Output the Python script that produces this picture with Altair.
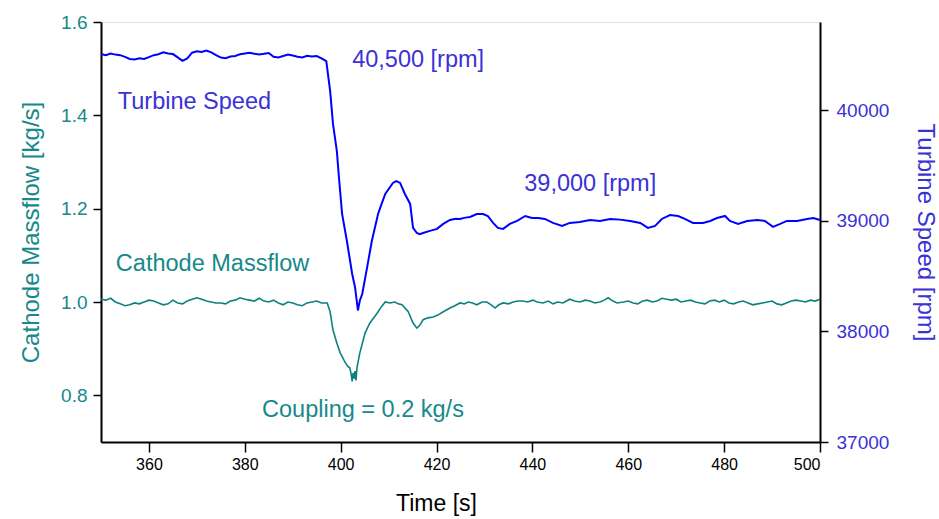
import altair as alt
import pandas as pd

# Turbine speed trace (time [s], speed [rpm])
ts_time = [350, 351, 352, 353, 354, 355, 356, 357, 358, 359, 360, 361, 362, 363, 364, 365, 366, 367, 368, 369,
           370, 371, 372, 373, 374, 375, 376, 377, 378, 379, 380, 381, 382, 383, 384, 385, 386, 387, 388, 389,
           390, 391, 392, 393, 394, 395, 396, 397, 397.8, 398.4, 399.2, 399.7, 400.3, 401.3, 402.4, 403.0,
           403.2, 403.6, 404.0, 404.5, 405.5, 406.5, 407.8, 408.5, 409.3, 410.2, 410.9, 411.6, 412.4, 413.4,
           414.5, 415.1, 415.9, 416.5, 417.2, 418.6, 420.1, 421.4, 422.8, 424.0, 424.9, 426.0, 427.0, 428.4,
           429.7, 430.7, 431.8, 432.8, 433.9, 435.3, 436.8, 438.5, 439.9, 441.2, 442.6, 444.3, 446.2, 447.8,
           449.9, 452.0, 454.1, 456.2, 458.3, 460.4, 462.5, 464.1, 465.6, 467.0, 468.7, 470.4, 471.8, 473.5,
           475.6, 477.1, 478.5, 480.2, 481.2, 482.9, 484.8, 486.9, 488.5, 490.2, 491.7, 493.1, 495.2, 497.3,
           498.6, 500.0]
ts_rpm = [40510, 40500, 40515, 40505, 40500, 40485, 40465, 40460, 40472, 40465, 40482, 40500, 40508, 40525,
          40515, 40510, 40480, 40448, 40470, 40522, 40535, 40528, 40542, 40525, 40500, 40478, 40472, 40488,
          40492, 40508, 40515, 40522, 40512, 40505, 40512, 40520, 40486, 40480, 40492, 40505, 40496, 40486,
          40480, 40494, 40488, 40492, 40470, 40445, 40177, 39878, 39634, 39362, 39063, 38819, 38520, 38400,
          38330, 38190, 38280, 38339, 38575, 38819, 39063, 39150, 39244, 39300, 39344, 39360, 39344, 39244,
          39154, 38937, 38891, 38880, 38891, 38910, 38928, 38973, 39009, 39020, 39018, 39030, 39036, 39063,
          39063, 39045, 38982, 38937, 38928, 38973, 39000, 39045, 39027, 39027, 39018, 38982, 38955, 38982,
          38991, 39009, 39000, 39018, 39012, 39000, 38982, 38937, 38955, 39018, 39054, 39045, 39018, 38982,
          38982, 39000, 39027, 39045, 39000, 38973, 39000, 39009, 39000, 38946, 38973, 39000, 39000, 39018,
          39027, 39009]

# Cathode massflow trace (time [s], massflow [kg/s])
mf_time = [350, 351, 352, 353, 354, 355, 356, 357, 358, 359, 360, 361, 362, 363, 364, 365, 366, 367, 368, 369,
           370, 371, 372, 373, 374, 375, 376, 377, 378, 379, 380, 381, 382, 383, 384, 385, 386, 387, 388, 389,
           390, 391, 392, 393, 394, 395, 396, 397.2, 397.8, 398.4, 399.2, 399.9, 400.9, 401.5, 401.9, 402.2,
           402.4, 402.6, 402.8, 403.0, 403.2, 403.4, 404.0, 405.1, 406.1, 407.6, 408.5, 409.3, 410.3, 411.3,
           412.0, 412.8, 414.1, 415.1, 415.9, 416.5, 417.2, 418.2, 419.3, 420.3, 421.4, 422.8, 423.8, 424.9,
           425.8, 426.6, 427.5, 428.4, 429.5, 430.5, 431.4, 432.2, 433.0, 433.9, 435.0, 436.0, 437.0, 438.0,
           439.0, 440.1, 441.0, 442.2, 443.3, 444.3, 445.3, 446.4, 447.1, 447.8, 448.8, 449.9, 451.0, 452.0,
           453.0, 454.1, 455.0, 455.8, 456.8, 457.7, 459, 460, 461, 462, 463, 464, 465, 466, 467, 468, 469,
           470, 471, 472, 473, 474, 475, 476, 477, 478, 479, 480, 481, 482, 483, 484, 485, 486, 487, 488, 489,
           490, 491, 492, 493, 494, 495, 496, 497, 498, 499, 500]
mf_val = [1.006, 1.004, 1.008, 1.0, 0.996, 0.992, 0.994, 0.998, 0.996, 1.0, 1.004, 1.002, 0.998, 0.994, 0.996,
          1.004, 0.998, 0.996, 1.002, 1.006, 1.009, 1.006, 1.002, 1.0, 0.998, 0.998, 0.996, 1.002, 1.004, 1.009,
          1.006, 1.004, 1.002, 1.008, 1.002, 1.0, 1.004, 0.998, 0.994, 1.0, 0.998, 0.994, 0.992, 0.998, 1.0,
          1.002, 0.998, 0.998, 0.979, 0.940, 0.912, 0.891, 0.871, 0.862, 0.859, 0.845, 0.830, 0.848, 0.836,
          0.852, 0.832, 0.859, 0.891, 0.934, 0.955, 0.976, 0.990, 1.0, 0.998, 1.0, 0.996, 0.994, 0.979, 0.955,
          0.944, 0.950, 0.962, 0.966, 0.968, 0.972, 0.979, 0.987, 0.992, 0.998, 0.996, 1.0, 0.998, 0.994, 1.0,
          1.0, 0.994, 0.987, 0.994, 0.998, 0.996, 1.0, 1.002, 1.002, 1.0, 1.004, 1.0, 0.998, 1.002, 0.996, 1.0,
          0.998, 1.002, 1.006, 1.002, 1.0, 1.004, 1.002, 0.998, 1.0, 1.004, 1.009, 1.002, 0.998, 1.0, 1.002,
          0.998, 0.996, 1.002, 1.004, 1.0, 1.002, 1.008, 1.006, 1.004, 1.006, 1.0, 1.002, 1.004, 1.0, 0.998,
          0.996, 1.002, 1.004, 1.0, 1.004, 0.998, 0.996, 1.0, 1.002, 0.998, 0.994, 0.996, 0.998, 1.0, 1.002,
          0.996, 0.994, 0.998, 1.002, 1.004, 1.002, 1.0, 1.004, 1.002, 1.006]

x_ticks = [360, 380, 400, 420, 440, 460, 480, 500]
mf_ticks = [0.8, 1.0, 1.2, 1.4, 1.6]
rpm_ticks = [37000, 38000, 39000, 40000]

ts_notes = ["Turbine Speed", "40,500 [rpm]", "39,000 [rpm]"]
ts_note_t = [353.5, 402.4, 438.3]
ts_note_v = [40077, 40457, 39335]
mf_notes = ["Cathode Massflow", "Coupling = 0.2 kg/s"]
mf_note_t = [353.1, 383.6]
mf_note_v = [1.081, 0.768]

TEAL = "#0e8080"
TEAL_TXT = "#16898a"
BLUE = "#0000ff"
BLUE_TXT = "#3a32d6"
FONT = "Liberation Sans"

ts_df = pd.DataFrame({"t": ts_time, "v": ts_rpm})
mf_df = pd.DataFrame({"t": mf_time, "v": mf_val})
ts_nd = pd.DataFrame({"t": ts_note_t, "v": ts_note_v, "label": ts_notes})
mf_nd = pd.DataFrame({"t": mf_note_t, "v": mf_note_v, "label": mf_notes})

x_enc = alt.X("t:Q", scale=alt.Scale(domain=[350, 500], nice=False, zero=False),
              axis=alt.Axis(values=x_ticks, title="Time [s]", grid=False, tickSize=10, tickWidth=1.5,
                            tickColor="black", domainColor="black", domainWidth=2, labelColor="black",
                            labelFontSize=16, titleFontSize=23, titleFontWeight="normal",
                            titleColor="black", labelPadding=4, titlePadding=20, titleX=335,
                            titleAlign="center", labelFont=FONT, titleFont=FONT))

mf_axis = alt.Axis(values=mf_ticks, format=".1f", title="Cathode Massflow [kg/s]", grid=False,
                   orient="left", tickSize=8, tickWidth=1.5, tickColor="black", domainColor="black",
                   domainWidth=2, labelColor=TEAL_TXT, titleColor=TEAL_TXT, labelFontSize=19,
                   titleFontSize=24, titleFontWeight="normal", labelPadding=6, titlePadding=17,
                   labelFont=FONT, titleFont=FONT)
ts_axis = alt.Axis(values=rpm_ticks, format="d", title="Turbine Speed [rpm]", grid=False,
                   orient="right", tickSize=8, tickWidth=1.5, tickColor="black", domainColor="black",
                   domainWidth=2, labelColor=BLUE_TXT, titleColor=BLUE_TXT, labelFontSize=19,
                   titleFontSize=24, titleFontWeight="normal", labelPadding=8, titlePadding=24,
                   labelFont=FONT, titleFont=FONT)

mf_scale = alt.Scale(domain=[0.7, 1.6], nice=False, zero=False)
ts_scale = alt.Scale(domain=[37000, 40800], nice=False, zero=False)

mf_line = alt.Chart(mf_df).mark_line(color=TEAL, strokeWidth=1.6).encode(
    x=x_enc, y=alt.Y("v:Q", scale=mf_scale, axis=mf_axis))
mf_text = alt.Chart(mf_nd).mark_text(color=TEAL_TXT, fontSize=23.5, align="left", baseline="middle",
                                     font=FONT).encode(
    x=alt.X("t:Q"), y=alt.Y("v:Q", scale=mf_scale), text="label:N")

ts_line = alt.Chart(ts_df).mark_line(color=BLUE, strokeWidth=2).encode(
    x=alt.X("t:Q"), y=alt.Y("v:Q", scale=ts_scale, axis=ts_axis))
ts_text = alt.Chart(ts_nd).mark_text(color=BLUE_TXT, fontSize=23.5, align="left", baseline="middle",
                                     font=FONT).encode(
    x=alt.X("t:Q"), y=alt.Y("v:Q", scale=ts_scale), text="label:N")

chart = alt.layer(
    alt.layer(mf_line, mf_text),
    alt.layer(ts_line, ts_text),
).resolve_scale(y="independent").properties(
    width=719, height=420,
    autosize=alt.AutoSizeParams(type="none"),
    padding={"left": 101, "top": 22, "right": 119, "bottom": 77},
).configure_view(stroke="black", strokeWidth=2).configure(font=FONT, background="white")

chart.save("out.html", embed_options={"renderer": "svg", "actions": False})
